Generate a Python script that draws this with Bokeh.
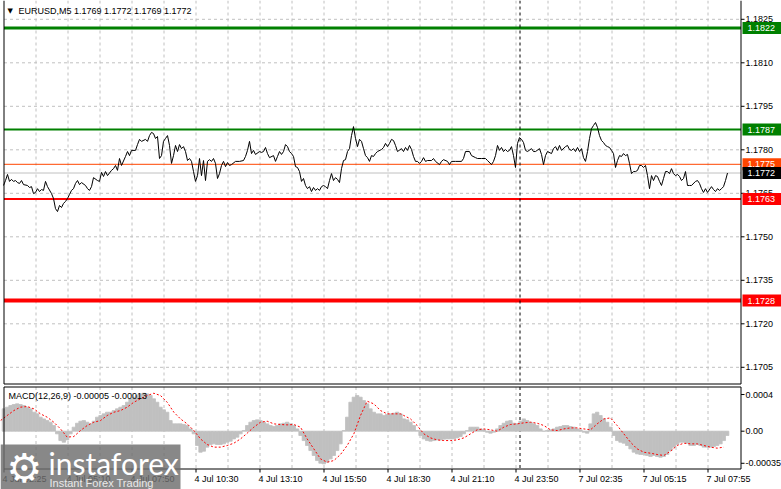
from bokeh.plotting import figure
from bokeh.layouts import column
from bokeh.models import Range1d
from bokeh.core.properties import value
from bokeh.embed import file_html
from bokeh.resources import INLINE

FONT = "Liberation Sans"

# ---------------- data ----------------
bar_index = [
    0, 1, 2, 3, 4, 5, 6, 7, 8, 9,
    10, 12, 13, 14, 15, 16, 17, 18, 19, 20,
    21, 22, 24, 25, 26, 27, 28, 29, 30, 31,
    32, 33, 34, 35, 36, 37, 38, 39, 41, 42,
    43, 44, 45, 47, 48, 49, 50, 51, 52, 54,
    55, 56, 57, 58, 59, 61, 62, 63, 64, 66,
    67, 68, 69, 71, 72, 73, 74, 75, 76, 77,
    78, 79, 80, 81, 82, 83, 84, 85, 86, 87,
    88, 89, 90, 91, 92, 93, 94, 95, 96, 97,
    98, 99, 100, 101, 102, 103, 104, 105, 106, 107,
    108, 109, 110, 111, 112, 113, 114, 116, 118, 120,
    121, 122, 123, 124, 125, 126, 128, 129, 130, 131,
    132, 133, 135, 136, 137, 138, 139, 140, 141, 142,
    143, 144, 145, 146, 147, 148, 149, 150, 151, 152,
    153, 154, 155, 156, 157, 158, 159, 160, 161, 162,
    163, 164, 165, 166, 167, 168, 169, 170, 171, 172,
    173, 174, 175, 176, 177, 178, 179, 180, 181, 182,
    183, 184, 185, 186, 187, 189, 190, 191, 192, 193,
    194, 195, 196, 197, 199, 200, 201, 202, 203, 204,
    205, 206, 207, 208, 209, 210, 211, 212, 214, 215,
    216, 218, 219, 220, 222, 223, 224, 226, 229, 230,
    231, 233, 234, 236, 237, 239, 241, 242, 244, 245,
    246, 247, 248, 249, 250, 251, 252, 253, 254, 255,
    256, 257, 258, 259, 260, 261, 262, 264, 265, 266,
    268, 269, 270, 271, 272, 274, 275, 276, 277, 278,
    279, 281, 282, 283, 284, 285, 286, 287, 288, 289,
    290, 291, 292, 293, 294, 295, 296, 297, 298, 299,
    300, 301, 302, 303, 304, 305, 306, 307, 308, 309,
    310, 311, 312, 313, 314, 315, 316, 317, 318, 319,
    320, 321, 322, 323, 324, 325, 326, 327, 328, 329,
    330, 331, 332, 333, 334, 335, 336, 337, 338, 339,
    340, 341, 342, 343, 344, 346, 347, 348, 349, 350,
    351, 352, 354, 355, 356, 357, 358, 359, 360, 361,
    362,
]
close = [
    1.17677, 1.17694, 1.17715, 1.17691, 1.17698, 1.17691, 1.17694, 1.17687, 1.17684, 1.17694,
    1.17680, 1.17677, 1.17670, 1.17673, 1.17649, 1.17653, 1.17666, 1.17656, 1.17663, 1.17660,
    1.17691, 1.17673, 1.17649, 1.17632, 1.17597, 1.17587, 1.17608, 1.17601, 1.17615, 1.17622,
    1.17632, 1.17646, 1.17660, 1.17666, 1.17684, 1.17694, 1.17680, 1.17687, 1.17677, 1.17666,
    1.17660, 1.17673, 1.17704, 1.17694, 1.17691, 1.17722, 1.17708, 1.17725, 1.17711, 1.17729,
    1.17735, 1.17746, 1.17729, 1.17770, 1.17746, 1.17777, 1.17794, 1.17780, 1.17798, 1.17798,
    1.17818, 1.17836, 1.17829, 1.17836, 1.17829, 1.17849, 1.17860, 1.17856, 1.17839, 1.17846,
    1.17770, 1.17780, 1.17829, 1.17839, 1.17849, 1.17815, 1.17753, 1.17780, 1.17815, 1.17794,
    1.17818, 1.17804, 1.17811, 1.17794, 1.17763, 1.17770, 1.17760, 1.17725, 1.17691, 1.17711,
    1.17770, 1.17711, 1.17763, 1.17694, 1.17760, 1.17766, 1.17760, 1.17770, 1.17753, 1.17701,
    1.17718, 1.17746, 1.17760, 1.17742, 1.17756, 1.17746, 1.17749, 1.17760, 1.17760, 1.17763,
    1.17777, 1.17798, 1.17829, 1.17787, 1.17798, 1.17784, 1.17794, 1.17791, 1.17794, 1.17808,
    1.17787, 1.17773, 1.17780, 1.17760, 1.17777, 1.17794, 1.17784, 1.17794, 1.17818, 1.17811,
    1.17794, 1.17787, 1.17777, 1.17742, 1.17739, 1.17725, 1.17691, 1.17701, 1.17677, 1.17666,
    1.17673, 1.17656, 1.17670, 1.17660, 1.17666, 1.17660, 1.17673, 1.17677, 1.17673, 1.17666,
    1.17694, 1.17718, 1.17694, 1.17704, 1.17698, 1.17687, 1.17735, 1.17763, 1.17766, 1.17794,
    1.17804, 1.17849, 1.17880, 1.17839, 1.17811, 1.17836, 1.17829, 1.17804, 1.17780, 1.17773,
    1.17760, 1.17780, 1.17777, 1.17787, 1.17794, 1.17801, 1.17808, 1.17822, 1.17811, 1.17822,
    1.17836, 1.17832, 1.17815, 1.17794, 1.17804, 1.17794, 1.17808, 1.17798, 1.17815, 1.17801,
    1.17777, 1.17760, 1.17760, 1.17753, 1.17760, 1.17773, 1.17760, 1.17763, 1.17763, 1.17770,
    1.17760, 1.17749, 1.17760, 1.17766, 1.17760, 1.17749, 1.17760, 1.17760, 1.17760, 1.17770,
    1.17794, 1.17794, 1.17780, 1.17773, 1.17770, 1.17770, 1.17770, 1.17763, 1.17749, 1.17760,
    1.17780, 1.17815, 1.17798, 1.17808, 1.17794, 1.17801, 1.17794, 1.17798, 1.17811, 1.17780,
    1.17739, 1.17822, 1.17842, 1.17836, 1.17825, 1.17798, 1.17794, 1.17804, 1.17794, 1.17794,
    1.17804, 1.17784, 1.17749, 1.17780, 1.17794, 1.17787, 1.17804, 1.17811, 1.17798, 1.17815,
    1.17798, 1.17811, 1.17815, 1.17801, 1.17798, 1.17804, 1.17794, 1.17808, 1.17794, 1.17804,
    1.17773, 1.17760, 1.17794, 1.17839, 1.17873, 1.17884, 1.17894, 1.17877, 1.17849, 1.17832,
    1.17825, 1.17815, 1.17811, 1.17808, 1.17798, 1.17787, 1.17739, 1.17763, 1.17780, 1.17777,
    1.17787, 1.17780, 1.17784, 1.17753, 1.17718, 1.17725, 1.17725, 1.17729, 1.17746, 1.17746,
    1.17739, 1.17746, 1.17711, 1.17666, 1.17711, 1.17694, 1.17711, 1.17708, 1.17691, 1.17677,
    1.17701, 1.17725, 1.17725, 1.17718, 1.17735, 1.17718, 1.17711, 1.17715, 1.17708, 1.17694,
    1.17701, 1.17725, 1.17677, 1.17677, 1.17677, 1.17691, 1.17694, 1.17684, 1.17666, 1.17653,
    1.17666, 1.17653, 1.17673, 1.17663, 1.17656, 1.17666, 1.17660, 1.17666, 1.17673, 1.17694,
    1.17720,
]
assert len(bar_index) == len(close)

price_ticks = [1.1705, 1.1720, 1.1735, 1.1750, 1.1765, 1.1780, 1.1795, 1.1810, 1.1825]

levels = [1.1822, 1.1787, 1.1775, 1.1772, 1.1763, 1.1728]
level_text = ["1.1822", "1.1787", "1.1775", "1.1772", "1.1763", "1.1728"]
level_colors = ["#008000", "#008000", "#ff4500", "#c0c0c0", "#ff0000", "#ff0000"]
level_widths = [3, 2, 1, 1, 2, 4]
box_colors = ["#008000", "#008000", "#ff4500", "#000000", "#ff0000", "#ff0000"]

time_ticks = [0, 32, 64, 96, 128, 160, 192, 224, 256, 288, 320, 352]
time_labels = ["4 Jul 02:25", "4 Jul 05:10", "4 Jul 07:50", "4 Jul 10:30", "4 Jul 13:10",
               "4 Jul 15:50", "4 Jul 18:30", "4 Jul 21:10", "4 Jul 23:50", "7 Jul 02:35",
               "7 Jul 05:15", "7 Jul 07:55"]
grid_ticks = [16 * k for k in range(1, 23)]
separator_bar = 258

hist_values = [
    0.000244, 0.000262, 0.000280, 0.000291, 0.000298, 0.000291, 0.000280, 0.000262, 0.000244, 0.000207,
    0.000189, 0.000153, 0.000134, 0.000116, 0.000098, 0.000062, -0.000029, -0.000102, -0.000120, -0.000095,
    -0.000029, 0.000044, 0.000087, 0.000109, 0.000116, 0.000098, 0.000080, 0.000109, 0.000153, 0.000171,
    0.000189, 0.000207, 0.000207, 0.000225, 0.000244, 0.000262, 0.000280, 0.000316, 0.000353, 0.000371,
    0.000389, 0.000407, 0.000414, 0.000407, 0.000389, 0.000353, 0.000316, 0.000262, 0.000233, 0.000207,
    0.000116, 0.000080, 0.000080, 0.000080, 0.000073, 0.000062, 0.000025, -0.000029, -0.000156, -0.000229,
    -0.000218, -0.000174, -0.000145, -0.000138, -0.000145, -0.000145, -0.000138, -0.000120, -0.000109, -0.000084,
    -0.000065, -0.000029, 0.000007, 0.000062, 0.000098, 0.000116, 0.000124, 0.000116, 0.000098, 0.000080,
    0.000062, 0.000051, 0.000062, 0.000080, 0.000087, 0.000098, 0.000080, 0.000062, 0.000025, -0.000047,
    -0.000102, -0.000156, -0.000211, -0.000265, -0.000320, -0.000349, -0.000356, -0.000338, -0.000302, -0.000265,
    -0.000211, -0.000138, 0.000007, 0.000153, 0.000316, 0.000371, 0.000389, 0.000371, 0.000334, 0.000298,
    0.000244, 0.000207, 0.000189, 0.000189, 0.000171, 0.000182, 0.000189, 0.000196, 0.000207, 0.000189,
    0.000134, 0.000124, 0.000098, 0.000062, 0.000007, -0.000047, -0.000084, -0.000102, -0.000109, -0.000102,
    -0.000095, -0.000095, -0.000087, -0.000084, -0.000084, -0.000084, -0.000073, -0.000058, -0.000029, 0.000007,
    0.000044, 0.000044, 0.000044, 0.000025, 0.000015, -0.000011, -0.000022, -0.000011, 0.000025, 0.000062,
    0.000087, 0.000109, 0.000116, 0.000087, 0.000080, 0.000109, 0.000134, 0.000116, 0.000098, 0.000080,
    0.000062, 0.000025, 0.000000, 0.000007, 0.000015, 0.000025, 0.000044, 0.000051, 0.000062, 0.000062,
    0.000051, 0.000044, 0.000025, 0.000015, -0.000011, -0.000022, 0.000080, 0.000189, 0.000207, 0.000171,
    0.000134, 0.000098, 0.000044, -0.000047, -0.000102, -0.000120, -0.000131, -0.000156, -0.000193, -0.000229,
    -0.000247, -0.000254, -0.000254, -0.000265, -0.000276, -0.000265, -0.000276, -0.000284, -0.000276, -0.000254,
    -0.000211, -0.000174, -0.000145, -0.000120, -0.000120, -0.000131, -0.000156, -0.000156, -0.000145, -0.000156,
    -0.000174, -0.000174, -0.000174, -0.000167, -0.000156, -0.000138, -0.000102, -0.000047,
]
signal_values = [
    0.000116, 0.000171, 0.000225, 0.000262, 0.000269, 0.000244, 0.000189, 0.000153, 0.000098, 0.000025,
    -0.000065, -0.000058, 0.000007, 0.000062, 0.000098, 0.000116, 0.000171, 0.000207, 0.000225, 0.000262,
    0.000316, 0.000353, 0.000389, 0.000414, 0.000389, 0.000316, 0.000207, 0.000134, 0.000080, 0.000007,
    -0.000084, -0.000145, -0.000174, -0.000174, -0.000156, -0.000131, -0.000084, -0.000022, 0.000044, 0.000098,
    0.000109, 0.000080, 0.000073, 0.000069, 0.000073, 0.000044, -0.000084, -0.000193, -0.000302, -0.000338,
    -0.000320, -0.000254, -0.000156, -0.000029, 0.000171, 0.000327, 0.000298, 0.000225, 0.000189, 0.000189,
    0.000189,
    0.000171, 0.000134, 0.000062, -0.000029, -0.000073, -0.000095, -0.000102, -0.000102, -0.000095, -0.000073,
    -0.000029, 0.000015, 0.000025, 0.000015, 0.000000, 0.000044, 0.000073, 0.000080, 0.000091, 0.000098,
    0.000087, 0.000062, 0.000015, 0.000007, 0.000025, 0.000036, 0.000036, 0.000025, 0.000015, 0.000080,
    0.000134, 0.000145, 0.000062, -0.000029, -0.000120, -0.000193, -0.000229, -0.000240, -0.000254, -0.000265,
    -0.000218, -0.000156, -0.000131, -0.000138, -0.000138, -0.000156, -0.000174, -0.000185, -0.000174,
]
macd_ticks = [-0.00035, 0.0, 0.0004]
macd_tick_text = ["-0.00035", "0.00", "0.0004"]

title_text = "EURUSD,M5  1.1769 1.1772 1.1769 1.1772"
macd_text = "MACD(12,26,9) -0.00005 -0.00013"

# sampling positions (in bars) of the MACD readings
hist_step = 5 / 3
hist_bar = [1 / 6 + hist_step * k for k in range(len(hist_values))]
sig_steps = list(range(61)) + [60.5 + j for j in range(49)]
signal_bar = [-1.5 + 10 / 3 * s for s in sig_steps]

# ---------------- layout helpers (page pixel -> data) ----------------
def bx(px):          # x pixel -> bar index (2 px per bar, first bar at x=3)
    return (px - 3) / 2

def py(px):          # y pixel -> price
    return 1.1787 - (px - 129) / 29000

def my(px):          # y pixel -> MACD value
    return (430.7 - px) / 91700

PPX = 1 / 29000      # price units per pixel
GRID = "#c0c0c0"
W, H = 781, 489

p = figure(width=W, height=H, output_backend="svg", toolbar_location=None,
           x_range=Range1d(bx(0), bx(W)), y_range=Range1d(py(H), py(0)),
           x_axis_location=None, y_axis_location=None, min_border=0,
           outline_line_color=None, background_fill_color="white",
           border_fill_color="white")
p.extra_y_ranges = {"macd": Range1d(my(H), my(0))}
p.xgrid.visible = False
p.ygrid.visible = False

L, R = bx(3.5), bx(740.5)
MT, MB = py(0), py(383.5)
ST, SB = my(386.5), my(468.5)
gx = [t + 0.25 for t in grid_ticks]

# ---- grids ----
p.segment(x0=gx, y0=[MT] * len(gx), x1=gx, y1=[MB] * len(gx),
          line_color=GRID, line_dash="3 3", line_width=1)
p.segment(x0=[L] * len(price_ticks), y0=price_ticks, x1=[R] * len(price_ticks), y1=price_ticks,
          line_color=GRID, line_dash="3 3", line_width=1)
p.segment(x0=gx, y0=[ST] * len(gx), x1=gx, y1=[SB] * len(gx),
          line_color=GRID, line_dash="3 3", line_width=1, y_range_name="macd")

# ---- levels ----
for lv, c, w in zip(levels, level_colors, level_widths):
    p.segment(x0=[L], y0=[lv], x1=[R], y1=[lv], line_color=c, line_width=w)

# ---- separator ----
sx = separator_bar + 0.25
p.segment(x0=[sx], y0=[MT], x1=[sx], y1=[MB], line_color="black", line_dash="3 3", line_width=1)
p.segment(x0=[sx], y0=[ST], x1=[sx], y1=[SB], line_color="black", line_dash="3 3",
          line_width=1, y_range_name="macd")

# ---- price line ----
p.line(bar_index, close, line_color="black", line_width=1)

# ---- MACD ----
p.vbar(x=hist_bar, top=hist_values, bottom=0, width=hist_step,
       fill_color="#c0c0c0", line_color="#c0c0c0", line_width=0.8, y_range_name="macd")
p.line(signal_bar, signal_values, line_color="#ff0000", line_width=1, line_dash="2 2",
       y_range_name="macd")

# ---- frames ----
p.segment(x0=[L, L, R], y0=[MT, MB, MT], x1=[L, R, R], y1=[MB, MB, MB],
          line_color="black", line_width=1)
p.segment(x0=[L, L, L, R], y0=[ST, SB, ST, ST], x1=[R, R, L, R], y1=[ST, SB, SB, SB],
          line_color="black", line_width=1, y_range_name="macd")

# ---- right price axis ----
n = len(price_ticks)
p.segment(x0=[R] * n, y0=price_ticks, x1=[bx(744)] * n, y1=price_ticks,
          line_color="black", line_width=1)
p.text(x=[bx(745)] * n, y=price_ticks, text=["%.4f" % v for v in price_ticks],
       text_font=value(FONT), text_font_size="9px", text_color="black",
       text_align="left", text_baseline="middle")

# ---- level boxes ----
k = len(levels)
p.quad(left=[bx(742)] * k, right=[bx(W)] * k,
       top=[v + 6 * PPX for v in levels], bottom=[v - 6 * PPX for v in levels],
       fill_color=box_colors, line_color=None)
p.text(x=[bx(747)] * k, y=levels, text=level_text, text_font=value(FONT),
       text_font_size="9px", text_color="white", text_align="left", text_baseline="middle")

# ---- MACD axis ----
q = len(macd_ticks)
p.segment(x0=[R] * q, y0=macd_ticks, x1=[bx(744)] * q, y1=macd_ticks,
          line_color="black", line_width=1, y_range_name="macd")
p.text(x=[bx(745)] * q, y=macd_ticks, text=macd_tick_text, text_font=value(FONT),
       text_font_size="9px", text_color="black", text_align="left",
       text_baseline="middle", y_range_name="macd")

# ---- time axis ----
tx = [t + 0.25 for t in time_ticks]
p.segment(x0=tx, y0=[SB] * len(tx), x1=tx, y1=[my(472)] * len(tx),
          line_color="black", line_width=1, y_range_name="macd")
p.text(x=[t - 0.5 for t in time_ticks], y=[my(478)] * len(time_ticks), text=time_labels,
       text_font=value(FONT), text_font_size="9px", text_color="black",
       text_align="left", text_baseline="middle", y_range_name="macd")

# ---- titles ----
p.text(x=[bx(7)], y=[py(10)], text=["▼"], text_font=value("DejaVu Sans"),
       text_font_size="7px", text_color="black", text_align="left", text_baseline="middle")
p.text(x=[bx(18)], y=[py(10)], text=[title_text], text_font=value(FONT),
       text_font_size="9px", text_color="black", text_align="left", text_baseline="middle")
p.text(x=[bx(8)], y=[my(395)], text=[macd_text], text_font=value(FONT),
       text_font_size="9px", text_color="black", text_align="left", text_baseline="middle",
       y_range_name="macd")

# ---- watermark ----
p.quad(left=[bx(0)], right=[bx(180)], top=[my(444)], bottom=[my(H)],
       fill_color="#6e6e6e", fill_alpha=0.82, line_color=None, y_range_name="macd")
p.text(x=[bx(6)], y=[my(467)], text=["⚙"], text_font=value("DejaVu Sans"),
       text_font_size="40px", text_color="white", text_align="left",
       text_baseline="middle", y_range_name="macd")
p.text(x=[bx(48)], y=[my(462)], text=["instaforex"], text_font=value("Lato"),
       text_font_size="30px", text_color="white", text_align="left",
       text_baseline="middle", y_range_name="macd")
p.text(x=[bx(49)], y=[my(482)], text=["Instant Forex Trading"], text_font=value(FONT),
       text_font_size="11px", text_color="#e8e8e8", text_align="left",
       text_baseline="middle", y_range_name="macd")

layout = column(p, styles={"position": "absolute", "left": "0px", "top": "0px"})

open("out.html", "w").write(file_html(layout, INLINE))
